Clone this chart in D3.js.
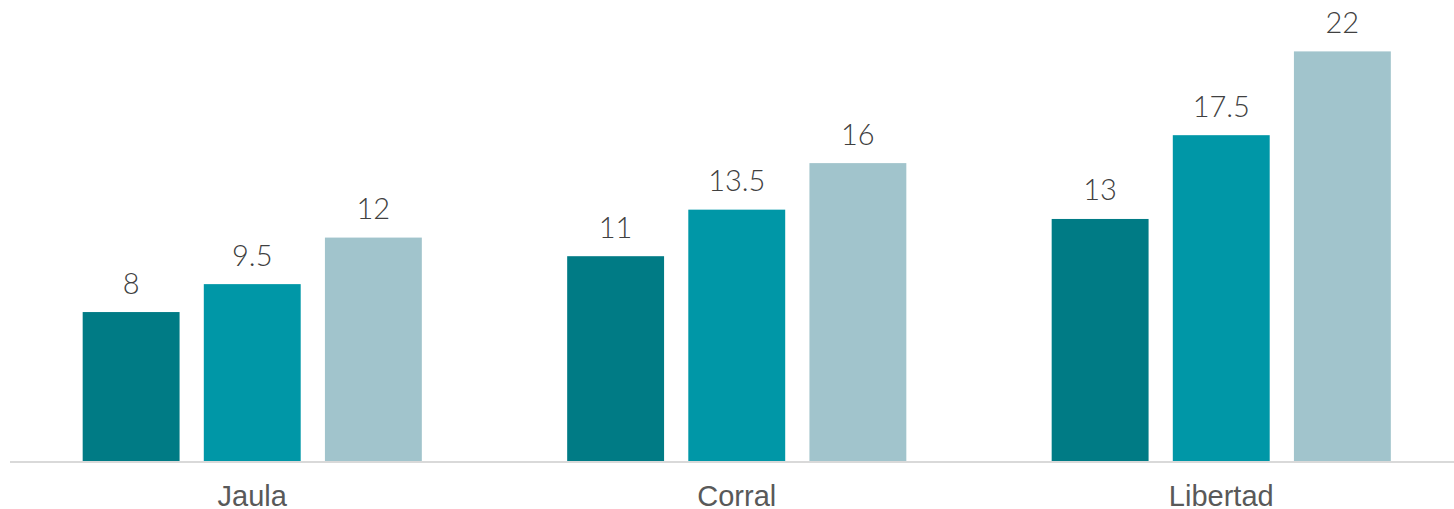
<!DOCTYPE html>
<html>
<head>
<meta charset="utf-8">
<script src="https://cdn.jsdelivr.net/npm/d3@7"></script>
<style>
  html, body { margin: 0; padding: 0; background: #ffffff; }
  svg { display: block; }
</style>
</head>
<body>
<svg id="chart" width="1454" height="509"></svg>
<script>
const categories = ["Jaula", "Corral", "Libertad"];
const seriesNames = ["Serie 1", "Serie 2", "Serie 3"];
const series1 = [8, 11, 13];
const series2 = [9.5, 13.5, 17.5];
const series3 = [12, 16, 22];
const colors = ["#007B85", "#0097A7", "#A1C4CC"];

const allSeries = [series1, series2, series3];
const data = categories.map((c, i) => ({
  category: c,
  values: allSeries.map((s, j) => ({ key: seriesNames[j], value: s[i], idx: j }))
}));

const svg = d3.select("#chart");
const baseline = 461;

const x0 = d3.scaleBand().domain(categories).range([10, 1463.5]).paddingInner(0.3).paddingOuter(0.15);
const x1 = d3.scaleBand().domain(seriesNames).range([0, x0.bandwidth()]).paddingInner(0.2).paddingOuter(0);
const y = d3.scaleLinear().domain([0, 22]).range([baseline, 51.4]);
const color = d3.scaleOrdinal().domain(seriesNames).range(colors);

const groups = svg.append("g").selectAll("g").data(data).join("g")
  .attr("transform", d => `translate(${x0(d.category)},0)`);

groups.selectAll("rect").data(d => d.values).join("rect")
  .attr("x", d => x1(d.key))
  .attr("y", d => y(d.value))
  .attr("width", x1.bandwidth())
  .attr("height", d => baseline - y(d.value))
  .attr("fill", d => color(d.key));

groups.selectAll("text.val").data(d => d.values).join("text")
  .attr("class", "val")
  .attr("x", d => x1(d.key) + x1.bandwidth() / 2)
  .attr("y", d => y(d.value) - 18.5)
  .attr("text-anchor", "middle")
  .attr("font-family", "Lato, 'Open Sans', sans-serif")
  .attr("font-weight", 300)
  .attr("font-size", "29px")
  .attr("fill", "#404040")
  .text(d => d.value);

// axis
const xAxis = d3.axisBottom(x0).tickSize(0).tickPadding(0);
const ax = svg.append("g").attr("transform", `translate(0,${baseline})`).call(xAxis);
ax.select(".domain").remove();
ax.selectAll("text")
  .attr("y", 44.5)
  .attr("dy", null)
  .attr("font-family", "'Liberation Sans', Arial, sans-serif")
  .attr("font-size", "29px")
  .attr("fill", "#595959");

svg.append("line")
  .attr("x1", 10).attr("x2", 1454)
  .attr("y1", baseline + 1).attr("y2", baseline + 1)
  .attr("stroke", "#d9d9d9").attr("stroke-width", 2);
</script>
</body>
</html>
